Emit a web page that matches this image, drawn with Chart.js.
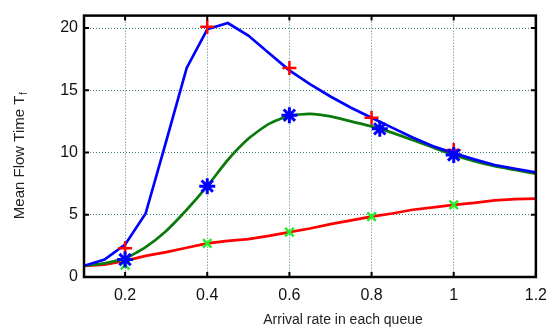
<!DOCTYPE html>
<html>
<head>
<meta charset="utf-8">
<script src="https://cdn.jsdelivr.net/npm/chart.js@4"></script>
<style>
  html, body { margin: 0; padding: 0; background: #fff; }
  #wrap { width: 556px; height: 330px; }
</style>
</head>
<body>
<div id="wrap"><canvas id="chart" width="556" height="330"></canvas></div>
<script>
// arrival rates along the curves
const rates = [0.1, 0.15, 0.2, 0.25, 0.3, 0.35, 0.4, 0.45, 0.5, 0.55, 0.6, 0.65,
               0.7, 0.75, 0.8, 0.85, 0.9, 0.95, 1.0, 1.05, 1.1, 1.15, 1.2];

const blueLine  = [0.9, 1.4, 2.6, 5.1, 10.9, 16.8, 19.9, 20.4, 19.4, 18.0, 16.6, 15.5,
                   14.5, 13.6, 12.8, 12.0, 11.2, 10.5, 9.95, 9.45, 9.0, 8.7, 8.4];
const greenLine = [0.9, 1.1, 1.5, 2.4, 3.7, 5.4, 7.3, 9.4, 11.1, 12.3, 12.95, 13.1,
                   12.9, 12.5, 12.1, 11.6, 11.0, 10.4, 9.8, 9.3, 8.9, 8.6, 8.3];
const redLine   = [0.9, 1.0, 1.3, 1.7, 2.0, 2.35, 2.7, 2.9, 3.05, 3.3, 3.6, 3.9,
                   4.25, 4.55, 4.85, 5.1, 5.4, 5.6, 5.8, 5.95, 6.15, 6.25, 6.3];

// simulation markers
const plusX  = [0.2, 0.4, 0.6, 0.8, 1.0];
const plusY  = [2.3, 20.1, 16.8, 12.8, 10.2];
const starX  = [0.2, 0.4, 0.6, 0.82, 1.0];
const starY  = [1.4, 7.3, 13.0, 11.9, 9.8];
const crossX = [0.2, 0.4, 0.6, 0.8, 1.0];
const crossY = [0.95, 2.7, 3.6, 4.85, 5.8];

const xTicks = [0.2, 0.4, 0.6, 0.8, 1, 1.2];
const yTicks = [0, 5, 10, 15, 20];

const xTitle = 'Arrival rate in each queue';
const yTitle = 'Mean Flow Time T';
const yTitleSub = 'f';

function pts(xs, ys) {
  return xs.map((x, i) => ({ x: x, y: ys[i] }));
}

// frame, inward ticks and axis titles
const framePlugin = {
  id: 'frame',
  afterDraw(chart) {
    const ctx = chart.ctx;
    const a = chart.chartArea;
    const xs = chart.scales.x, ys = chart.scales.y;
    ctx.save();
    ctx.strokeStyle = '#000';
    ctx.lineWidth = 2;
    xTicks.forEach(t => {
      const px = xs.getPixelForValue(t);
      ctx.beginPath();
      ctx.moveTo(px, a.bottom); ctx.lineTo(px, a.bottom - 5);
      ctx.moveTo(px, a.top); ctx.lineTo(px, a.top + 5);
      ctx.stroke();
    });
    yTicks.forEach(t => {
      const py = ys.getPixelForValue(t);
      ctx.beginPath();
      ctx.moveTo(a.left, py); ctx.lineTo(a.left + 5, py);
      ctx.moveTo(a.right, py); ctx.lineTo(a.right - 5, py);
      ctx.stroke();
    });
    ctx.lineWidth = 2.5;
    ctx.strokeRect(a.left, a.top, a.right - a.left, a.bottom - a.top);

    ctx.fillStyle = '#222';
    ctx.font = '14px "Liberation Sans", Arial, sans-serif';
    ctx.textAlign = 'center';
    ctx.textBaseline = 'middle';
    ctx.fillText(xTitle, 343, 320);

    ctx.translate(20, 156);
    ctx.rotate(-Math.PI / 2);
    ctx.font = '15px "Liberation Sans", Arial, sans-serif';
    const w = ctx.measureText(yTitle).width;
    ctx.font = '10px "Liberation Sans", Arial, sans-serif';
    const ws = ctx.measureText(yTitleSub).width;
    const x0 = -(w + ws) / 2;
    ctx.textAlign = 'left';
    ctx.font = '15px "Liberation Sans", Arial, sans-serif';
    ctx.fillText(yTitle, x0, 0);
    ctx.font = '10px "Liberation Sans", Arial, sans-serif';
    ctx.fillText(yTitleSub, x0 + w + 0.5, 4);
    ctx.restore();
  }
};

const ctx = document.getElementById('chart');

new Chart(ctx, {
  type: 'line',
  data: {
    datasets: [
      {
        data: pts(starX, starY), showLine: false,
        pointStyle: 'star', pointRadius: 8, pointBorderWidth: 3,
        pointBorderColor: '#0000ff', pointBackgroundColor: '#0000ff'
      },
      {
        data: pts(crossX, crossY), showLine: false,
        pointStyle: 'crossRot', pointRadius: 6, pointBorderWidth: 2.5,
        pointBorderColor: '#22ee22', pointBackgroundColor: '#22ee22'
      },
      {
        data: pts(plusX, plusY), showLine: false,
        pointStyle: 'cross', pointRadius: 7, pointBorderWidth: 2.5,
        pointBorderColor: '#ff0000', pointBackgroundColor: '#ff0000'
      },
      {
        data: pts(rates, blueLine), borderColor: '#0000ff',
        borderWidth: 2.7, pointRadius: 0, tension: 0
      },
      {
        data: pts(rates, greenLine), borderColor: '#0a7a0a',
        borderWidth: 2.7, pointRadius: 0, tension: 0.2
      },
      {
        data: pts(rates, redLine), borderColor: '#ff0000',
        borderWidth: 2.7, pointRadius: 0, tension: 0
      }
    ]
  },
  options: {
    responsive: false,
    animation: false,
    layout: { padding: { left: 0, top: 9, right: 15, bottom: 0 } },
    plugins: {
      legend: { display: false },
      tooltip: { enabled: false }
    },
    scales: {
      x: {
        type: 'linear',
        min: 0.1,
        max: 1.2,
        afterBuildTicks: s => { s.ticks = xTicks.map(v => ({ value: v })); },
        afterFit: s => { s.height = 53; },
        grid: { color: '#3f7f80', lineWidth: 1, drawTicks: false },
        border: { display: false, dash: [1, 2] },
        ticks: {
          padding: 9,
          color: '#111',
          font: { family: '"Liberation Sans", Arial, sans-serif', size: 16 },
          callback: v => String(v)
        }
      },
      y: {
        min: 0,
        max: 21,
        afterBuildTicks: s => { s.ticks = yTicks.map(v => ({ value: v })); },
        afterFit: s => { s.width = 84; },
        grid: { color: '#3f7f80', lineWidth: 1, drawTicks: false },
        border: { display: false, dash: [1, 2] },
        ticks: {
          padding: 6,
          color: '#111',
          font: { family: '"Liberation Sans", Arial, sans-serif', size: 16 }
        }
      }
    }
  },
  plugins: [framePlugin]
});
</script>
</body>
</html>
